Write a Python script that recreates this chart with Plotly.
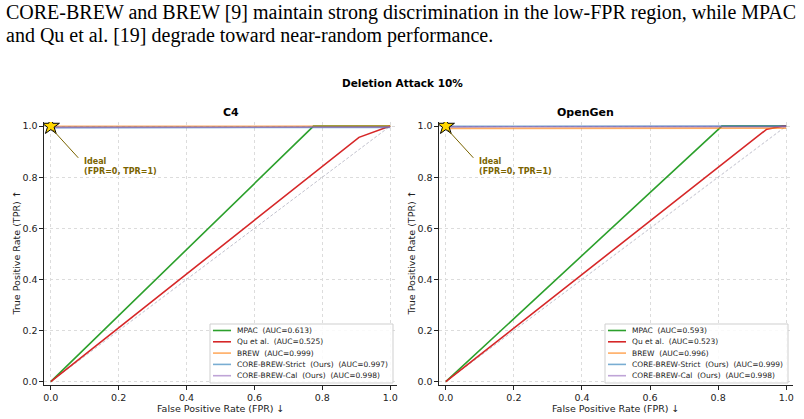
import plotly.graph_objects as go

W, H = 804, 419

caption_lines = [
    "CORE-BREW and BREW [9] maintain strong discrimination in the low-FPR region, while MPAC",
    "and Qu et al. [19] degrade toward near-random performance.",
]
suptitle = "Deletion Attack 10%"
panels = ["C4", "OpenGen"]
x_title = "False Positive Rate (FPR) ↓"
y_title = "True Positive Rate (TPR) ↑"

methods = ["MPAC", "Qu et al.", "BREW", "CORE-BREW-Strict  (Ours)", "CORE-BREW-Cal  (Ours)"]
colors = ["#2ca02c", "#d62728", "rgba(255,127,14,0.65)", "rgba(31,119,180,0.6)", "rgba(148,103,189,0.6)"]

auc = {
    "C4": [0.613, 0.525, 0.999, 0.997, 0.998],
    "OpenGen": [0.593, 0.523, 0.996, 0.999, 0.998],
}

# ROC points (FPR, TPR)
fpr = {
    "C4": [
        [0.0, 0.774, 1.0],
        [0.0, 0.908, 1.0],
        [0.0, 1.0],
        [0.0, 1.0],
        [0.0, 1.0],
    ],
    "OpenGen": [
        [0.0, 0.811, 1.0],
        [0.0, 0.943, 0.99, 1.0],
        [0.0, 1.0],
        [0.0, 1.0],
        [0.0, 1.0],
    ],
}
tpr = {
    "C4": [
        [0.0, 1.0, 1.0],
        [0.0, 0.956, 1.0],
        [0.999, 1.0],
        [0.994, 0.995],
        [0.995, 0.996],
    ],
    "OpenGen": [
        [0.0, 1.0, 1.0],
        [0.0, 0.988, 1.0, 1.0],
        [0.991, 0.992],
        [0.999, 1.0],
        [0.997, 0.998],
    ],
}
diag = [0.0, 1.0]
ticks = [0.0, 0.2, 0.4, 0.6, 0.8, 1.0]
tick_text = ["0.0", "0.2", "0.4", "0.6", "0.8", "1.0"]

fig = go.Figure()

domains_x = [[44 / W, 397 / W], [439 / W, 793 / W]]
dom_y = [1 - 385 / H, 1 - 122 / H]
ytitle_px = [16, 411]
legend_box_x = [(210, 393), (605, 788)]
legend_top, legend_bottom = 324, 383
OLIVE = "#7a6400"

for p, name in enumerate(panels):
    xa = "x" if p == 0 else "x2"
    ya = "y" if p == 0 else "y2"
    fig.add_trace(go.Scatter(x=diag, y=diag, mode="lines", xaxis=xa, yaxis=ya,
                             line=dict(color="rgba(150,150,170,0.6)", width=1, dash="3px,2px"),
                             showlegend=False, hoverinfo="skip"))
    for i, m in enumerate(methods):
        fig.add_trace(go.Scatter(
            x=fpr[name][i], y=tpr[name][i], mode="lines", xaxis=xa, yaxis=ya,
            line=dict(color=colors[i], width=1.6),
            name=f"{m}  (AUC={auc[name][i]:.3f})", showlegend=False,
        ))
    fig.add_trace(go.Scatter(x=[0], y=[1], mode="markers", xaxis=xa, yaxis=ya,
                             marker=dict(symbol="star", size=13, color="#FFD700",
                                         line=dict(color="black", width=1)),
                             showlegend=False, hoverinfo="skip"))
    fig.add_annotation(x=0.092, y=0.84, xref=xa, yref=ya,
                       text="<b>Ideal<br>(FPR=0, TPR=1)</b>", showarrow=False,
                       xanchor="left", yanchor="middle", align="left",
                       font=dict(family="DejaVu Sans", size=8, color=OLIVE))
    fig.add_annotation(x=0.006, y=0.985, ax=0.085, ay=0.87, xref=xa, yref=ya,
                       axref=xa, ayref=ya, text="", showarrow=True, arrowhead=0,
                       arrowwidth=1, arrowcolor=OLIVE, standoff=0, startstandoff=0)

    axis_common = dict(
        range=[-0.02, 1.02], tickvals=ticks, ticktext=tick_text,
        showgrid=True, gridcolor="#dcdcdc", griddash="dot", gridwidth=1,
        zeroline=False, showline=True, linecolor="#222", linewidth=1.2,
        ticks="outside", ticklen=3.5, tickwidth=1, tickcolor="#222",
        tickfont=dict(family="DejaVu Sans", size=9.5, color="#222"),
        mirror=False, automargin=False,
    )
    xkey = "xaxis" if p == 0 else "xaxis2"
    ykey = "yaxis" if p == 0 else "yaxis2"
    fig.update_layout(**{
        xkey: dict(axis_common, domain=domains_x[p], anchor=ya),
        ykey: dict(axis_common, domain=dom_y, anchor=xa, range=[-0.013, 1.016]),
    })
    # axis titles
    fig.add_annotation(x=(domains_x[p][0] + domains_x[p][1]) / 2, y=1 - 408 / H,
                       xref="paper", yref="paper", text=x_title, showarrow=False,
                       yanchor="middle", xanchor="center",
                       font=dict(family="DejaVu Sans", size=9.5, color="#222"))
    fig.add_annotation(x=ytitle_px[p] / W, y=(dom_y[0] + dom_y[1]) / 2,
                       xref="paper", yref="paper", text=y_title, showarrow=False,
                       textangle=-90, yanchor="middle", xanchor="center",
                       font=dict(family="DejaVu Sans", size=9.5, color="#222"))
    fig.add_annotation(x=(domains_x[p][0] + domains_x[p][1]) / 2, y=1 - 113 / H,
                       xref="paper", yref="paper", text=f"<b>{name}</b>", showarrow=False,
                       yanchor="middle",
                       font=dict(family="DejaVu Sans", size=11, color="black"))

    # legend (drawn from the method / colour / AUC lists)
    lx0, lx1 = legend_box_x[p]
    fig.add_shape(type="rect", xref="paper", yref="paper",
                  x0=lx0 / W, x1=lx1 / W, y0=1 - legend_bottom / H, y1=1 - legend_top / H,
                  line=dict(color="#cfcfcf", width=1), fillcolor="rgba(255,255,255,0.85)",
                  layer="above")
    for i, m in enumerate(methods):
        yc = legend_top + 6.5 + 11.3 * i
        fig.add_shape(type="line", xref="paper", yref="paper",
                      x0=(lx0 + 3) / W, x1=(lx0 + 21) / W, y0=1 - yc / H, y1=1 - yc / H,
                      line=dict(color=colors[i], width=1.6), layer="above")
        label = f"{m}  (AUC={auc[name][i]:.3f})".replace(" ", "\u00a0")
        fig.add_annotation(x=(lx0 + 25) / W, y=1 - yc / H, xref="paper", yref="paper",
                           text=label, showarrow=False, xanchor="left", yanchor="middle",
                           font=dict(family="DejaVu Sans", size=7.5, color="#222"))

fig.add_annotation(x=0.5, y=1 - 83 / H, xref="paper", yref="paper",
                   text=f"<b>{suptitle}</b>", showarrow=False, yanchor="middle",
                   font=dict(family="DejaVu Sans", size=10.5, color="black"))

for k, line in enumerate(caption_lines):
    fig.add_annotation(x=4 / W, y=1 - (-1 + 23 * k) / H, xref="paper", yref="paper",
                       text=line, showarrow=False, xanchor="left", yanchor="top",
                       font=dict(family="Liberation Serif", size=20, color="black"))

fig.update_layout(width=W, height=H, margin=dict(l=0, r=0, t=0, b=0),
                  paper_bgcolor="white", plot_bgcolor="white", showlegend=False)

fig.write_html("out.html")
